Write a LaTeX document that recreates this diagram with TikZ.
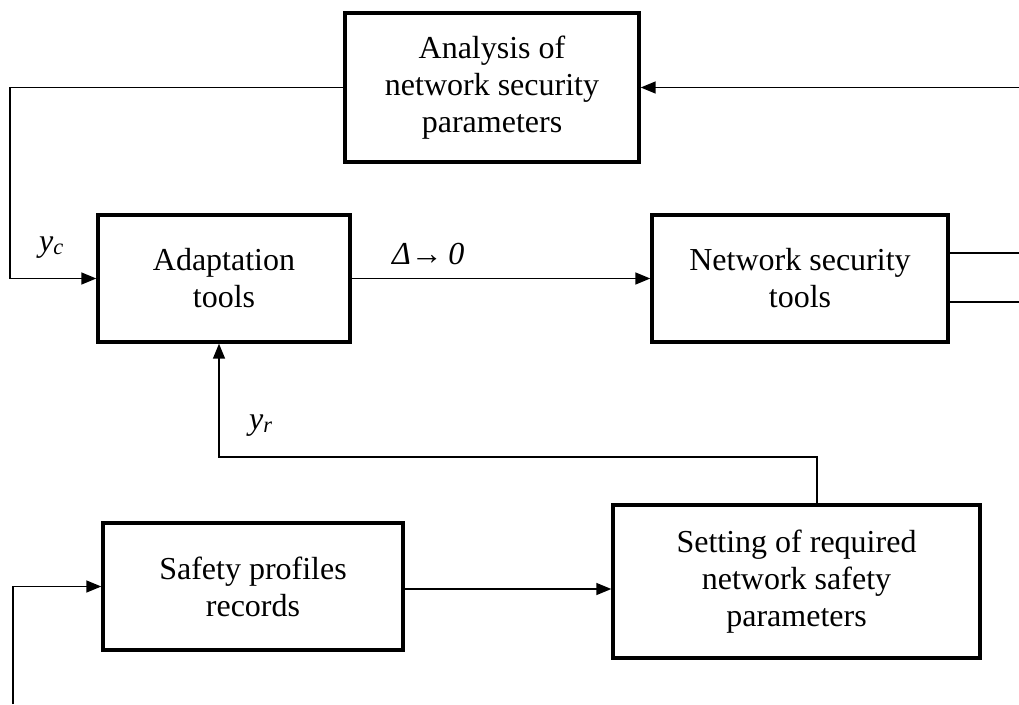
\documentclass[tikz,border=0pt]{standalone}
\usepackage{fontspec}
\setmainfont{Liberation Serif}
\usetikzlibrary{arrows.meta,calc}
\begin{document}
\begin{tikzpicture}[x=1pt,y=-1pt,
  box/.style={draw,line width=3.4pt,rectangle,align=center,inner sep=0pt,font=\fontsize{32}{37}\selectfont},
  conn/.style={line width=1.5pt},
  arr/.style={conn,-{Triangle[length=15pt,width=12pt]}},
  lab/.style={font=\fontsize{32}{37}\selectfont\itshape,inner sep=0pt}]
\useasboundingbox (0,0) rectangle (1019,704);
\node[box,minimum width=294pt,minimum height=149pt] (ana) at (492,87.5) {Analysis of\\network security\\parameters};
\node[box,minimum width=252pt,minimum height=127pt] (adapt) at (224,278.5) {Adaptation\\tools};
\node[box,minimum width=296pt,minimum height=127pt] (net) at (800,278.5) {Network security\\tools};
\node[box,minimum width=300pt,minimum height=127pt] (saf) at (253,586.5) {Safety profiles\\records};
\node[box,minimum width=367pt,minimum height=153pt] (set) at (796.5,581.5) {Setting of required\\network safety\\parameters};
% connectors
\coordinate (loopL) at (10,0);
\draw[arr] (ana.west) -- (ana.west -| loopL) |- (adapt.west);
\coordinate (inR) at (1019,0);
\draw[arr] (ana.east -| inR) -- (ana.east);
\draw[arr] (adapt.east) -- (net.west);
\coordinate (o1) at (1019,253);
\coordinate (o2) at (1019,302);
\draw[conn] (net.east |- o1) -- (o1);
\draw[conn] (net.east |- o2) -- (o2);
\coordinate (yrc) at (817,457);
\coordinate (yrb) at ($(adapt.south)+(-5,0)$);
\draw[arr] (set.north -| yrc) -- (yrc) -| (yrb);
\coordinate (sa) at ($(saf.east)+(0,2.5)$);
\draw[arr] (sa) -- (sa -| set.west);
\coordinate (inL) at (13,704);
\draw[arr] (inL) |- (saf.west);
% labels
\node[lab,anchor=base west] (yc) at (39,251) {y\textsubscript{c}};
\node[lab,anchor=base west] (delta) at (392,264) {Δ→\,0};
\node[lab,anchor=base west] (yr) at (249,429) {y\textsubscript{r}};
\end{tikzpicture}
\end{document}
